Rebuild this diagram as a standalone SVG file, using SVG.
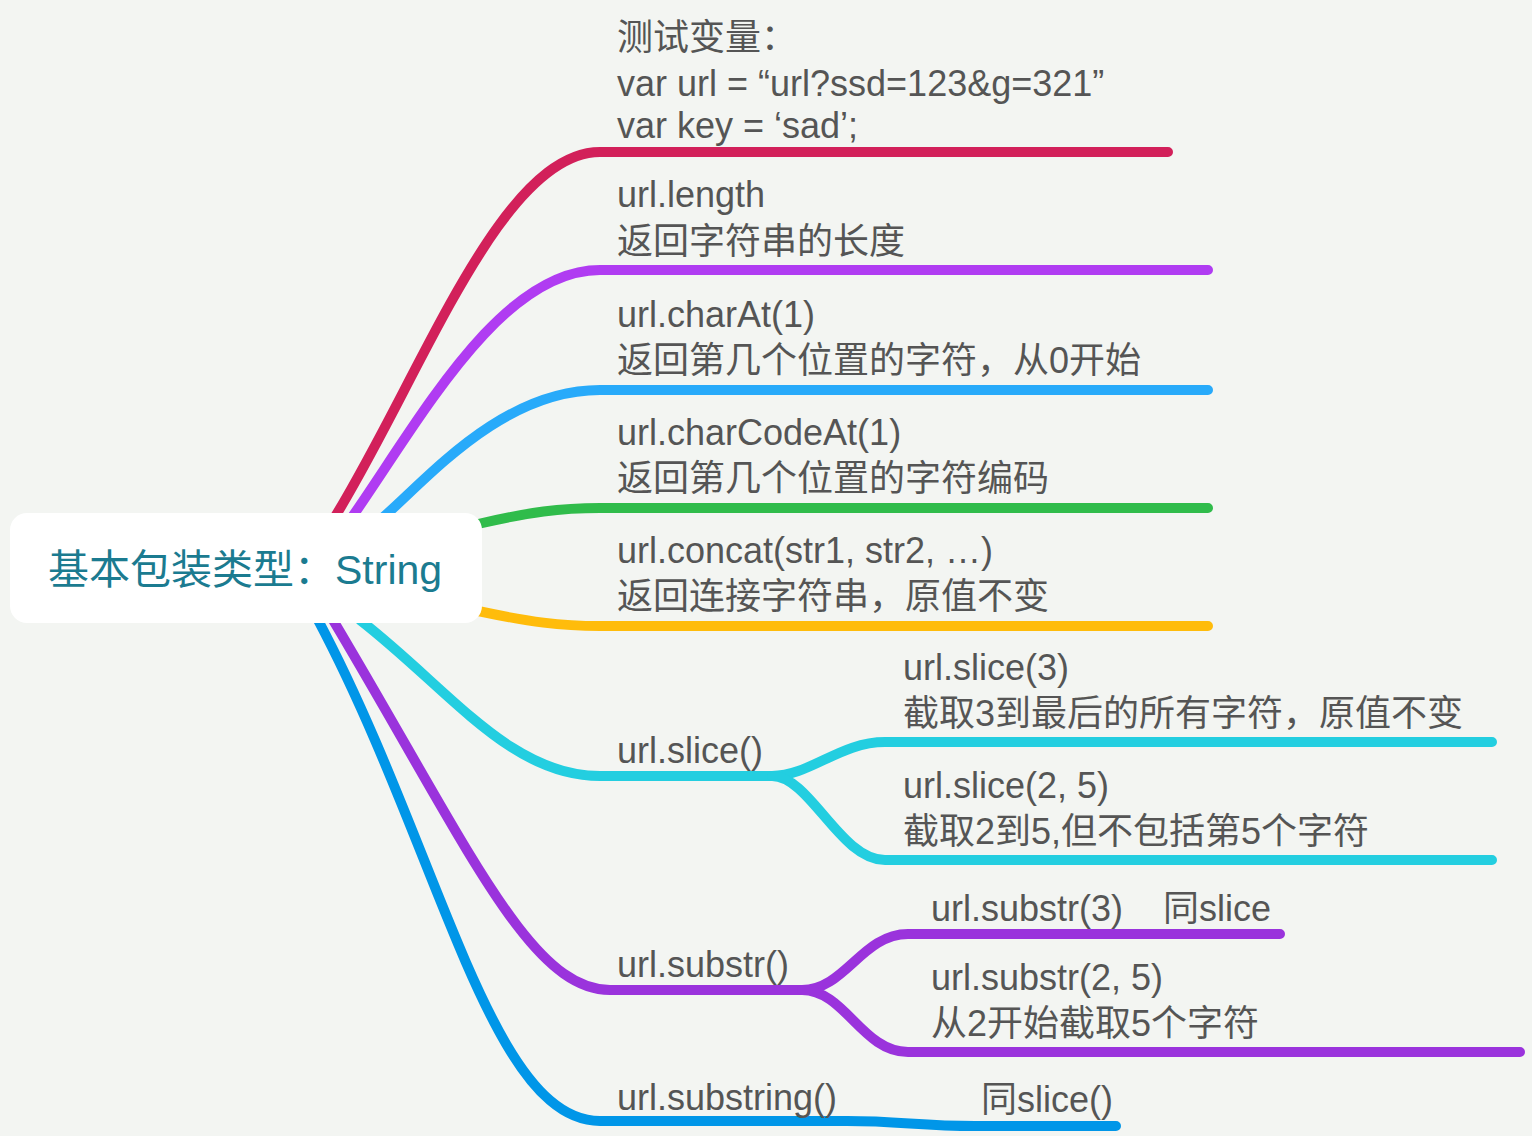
<svg xmlns="http://www.w3.org/2000/svg" width="1532" height="1136" viewBox="0 0 1532 1136">
<style>
.t{font-family:"Liberation Sans","Noto Sans CJK SC",sans-serif;font-size:36px;fill:#555555;white-space:pre}
.root{font-family:"Liberation Sans","Noto Sans CJK SC",sans-serif;font-size:41px;fill:#1b7b90}
.c{fill:none;stroke-width:10;stroke-linecap:round;stroke-linejoin:round}
</style>
<rect width="1532" height="1136" fill="#f3f5f2"/>
<g id="connectors">
<path class="c" stroke="#d2205a" d="M333 520 C420 380 500 152 600 152 L1168 152"/>
<path class="c" stroke="#b03cf2" d="M350 520 C420 420 500 270 600 270 L1208 270"/>
<path class="c" stroke="#28aafa" d="M380 520 C425 482 500 390 600 390 L1208 390"/>
<path class="c" stroke="#30bc4b" d="M478 524 C530 512 560 508 600 508 L1208 508"/>
<path class="c" stroke="#ffbc0b" d="M478 611 C530 622 560 626 600 626 L1208 626"/>
<path class="c" stroke="#23cee0" d="M360 620 C450 690 510 776 600 776 L772 776"/>
<path class="c" stroke="#23cee0" d="M772 776 C810 776 840 742 885 742 L1492 742"/>
<path class="c" stroke="#23cee0" d="M772 776 C810 776 840 860 885 860 L1492 860"/>
<path class="c" stroke="#9a33dc" d="M333 620 C470 850 530 990 610 990 L802 990"/>
<path class="c" stroke="#9a33dc" d="M802 990 C845 990 862 934 908 934 L1280 934"/>
<path class="c" stroke="#9a33dc" d="M802 990 C845 990 862 1052 908 1052 L1520 1052"/>
<path class="c" stroke="#0096e8" d="M318 620 C440 850 490 1121 600 1121 L847 1121"/>
<path class="c" stroke="#0096e8" d="M847 1121 C900 1121 920 1126 975 1126 L1116 1126"/>
</g>
<g id="root">
<rect x="10" y="513" width="472" height="110" rx="17" fill="#ffffff"/>
<text class="root" x="48" y="584">基本包装类型：String</text>
</g>
<g id="n-vars">
<text class="t" x="617" y="50">测试变量：</text>
<text class="t" x="617" y="96">var url = “url?ssd=123&amp;g=321”</text>
<text class="t" x="617" y="138">var key = ‘sad’;</text>
</g>
<g id="n-length">
<text class="t" x="617" y="207">url.length</text>
<text class="t" x="617" y="254">返回字符串的长度</text>
</g>
<g id="n-charat">
<text class="t" x="617" y="327">url.charAt(1)</text>
<text class="t" x="617" y="373">返回第几个位置的字符，从0开始</text>
</g>
<g id="n-charcodeat">
<text class="t" x="617" y="445">url.charCodeAt(1)</text>
<text class="t" x="617" y="491">返回第几个位置的字符编码</text>
</g>
<g id="n-concat">
<text class="t" x="617" y="563">url.concat(str1, str2, …)</text>
<text class="t" x="617" y="609">返回连接字符串，原值不变</text>
</g>
<g id="n-slice">
<text class="t" x="617" y="763">url.slice()</text>
</g>
<g id="n-slice3">
<text class="t" x="903" y="680">url.slice(3)</text>
<text class="t" x="903" y="726">截取3到最后的所有字符，原值不变</text>
</g>
<g id="n-slice25">
<text class="t" x="903" y="798">url.slice(2, 5)</text>
<text class="t" x="903" y="844">截取2到5,但不包括第5个字符</text>
</g>
<g id="n-substr">
<text class="t" x="617" y="977">url.substr()</text>
</g>
<g id="n-substr3">
<text class="t" x="931" y="921">url.substr(3)    同slice</text>
</g>
<g id="n-substr25">
<text class="t" x="931" y="990">url.substr(2, 5)</text>
<text class="t" x="931" y="1036">从2开始截取5个字符</text>
</g>
<g id="n-substring">
<text class="t" x="617" y="1110">url.substring()</text>
</g>
<g id="n-substring-same">
<text class="t" x="981" y="1112">同slice()</text>
</g>
</svg>
